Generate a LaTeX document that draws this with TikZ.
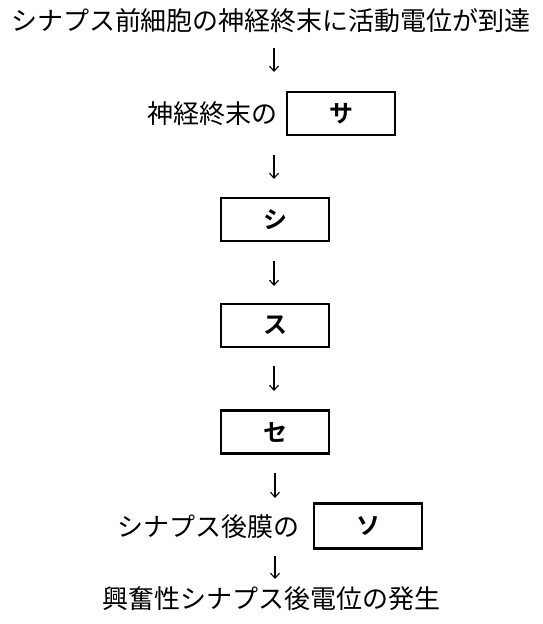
\documentclass[tikz,border=0pt]{standalone}
\usepackage{fontspec}
\newfontfamily\jp{Noto Sans CJK JP}[BoldFont={Noto Sans CJK JP Bold}]
\usetikzlibrary{arrows.meta}
\begin{document}
\begin{tikzpicture}[x=1pt,y=-1pt,
  ttxt/.style={inner sep=0pt,font=\jp\fontsize{26}{26}\selectfont},
  btxt/.style={inner sep=0pt,font=\jp\fontsize{26}{26}\selectfont},
  ansbox/.style={draw,line width=2.8pt,minimum width=108pt,minimum height=43pt,inner sep=0pt,font=\jp\bfseries\fontsize{24}{24}\selectfont},
  arr/.style={line width=1.1pt,-{Straight Barb[length=5pt,width=9pt,line width=1.1pt]}}]
\useasboundingbox (0,0) rectangle (542,624);
\node[ttxt] (title) at (271,21) {シナプス前細胞の神経終末に活動電位が到達};
\node[btxt,anchor=east] (l1) at (278,113.5) {神経終末の};
\node[ansbox] (sa) at (341,113.5) {サ};
\node[ansbox] (shi) at (275,219.5) {シ};
\node[ansbox] (su) at (275,325.5) {ス};
\node[ansbox] (se) at (275,432) {セ};
\node[btxt,anchor=east] (l2) at (300,527) {シナプス後膜の};
\node[ansbox,minimum height=45pt] (so) at (368,526) {ソ};
\node[btxt] (bottom) at (271,599) {興奮性シナプス後電位の発生};
\coordinate (a1s) at (274,48);  \coordinate (a1e) at (274,72);
\coordinate (a2s) at (274,155); \coordinate (a2e) at (274,179);
\coordinate (a3s) at (274,261); \coordinate (a3e) at (274,286);
\coordinate (a4s) at (274,366); \coordinate (a4e) at (274,391);
\coordinate (a5s) at (275,473); \coordinate (a5e) at (275,498);
\coordinate (a6s) at (275,556); \coordinate (a6e) at (275,579);
\draw[arr] (a1s) -- (a1e);
\draw[arr] (a2s) -- (a2e);
\draw[arr] (a3s) -- (a3e);
\draw[arr] (a4s) -- (a4e);
\draw[arr] (a5s) -- (a5e);
\draw[arr] (a6s) -- (a6e);
\end{tikzpicture}
\end{document}
